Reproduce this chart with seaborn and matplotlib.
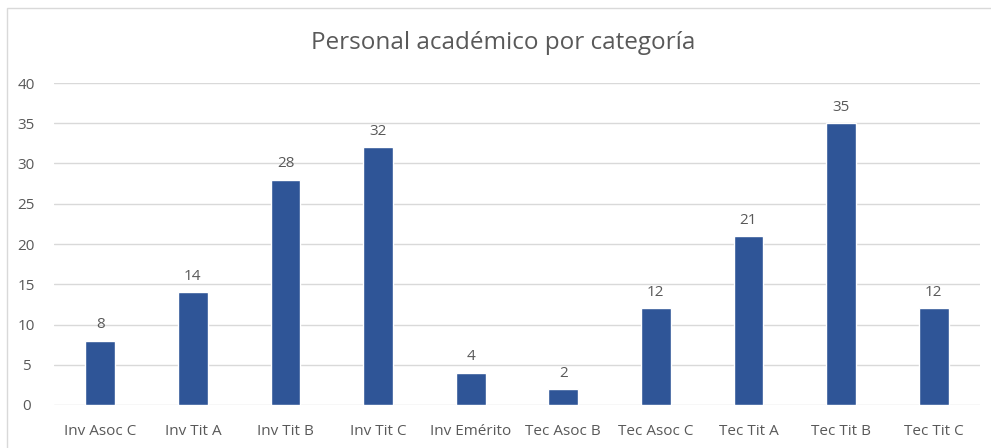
import matplotlib
matplotlib.use("Agg")
import matplotlib.pyplot as plt
import seaborn as sns
import pandas as pd
from matplotlib.patches import Rectangle

categorias = ["Inv Asoc C", "Inv Tit A", "Inv Tit B", "Inv Tit C", "Inv Emérito",
              "Tec Asoc B", "Tec Asoc C", "Tec Tit A", "Tec Tit B", "Tec Tit C"]
personal = [8, 14, 28, 32, 4, 2, 12, 21, 35, 12]
yticks = [0, 5, 10, 15, 20, 25, 30, 35, 40]

df = pd.DataFrame({"categoria": categorias, "personal": personal})

sns.set_theme(style="white")
plt.rcParams['font.family'] = ['Open Sans', 'DejaVu Sans']
gris = "#595959"

fig = plt.figure(figsize=(9.91, 4.48), dpi=100)
ax = fig.add_axes([54/991, 1-405/448, 926/991, 322/448])

sns.barplot(data=df, x="categoria", y="personal", color="#2F5597", width=0.32,
            saturation=1, ax=ax, zorder=3)

ax.set_ylim(0, 40)
ax.set_yticks(yticks)
ax.yaxis.grid(True, color="#D9D9D9", linewidth=1, zorder=0)
for s in ax.spines.values():
    s.set_visible(False)
ax.set_xlabel("")
ax.set_ylabel("")
ax.tick_params(axis="both", length=0, labelsize=11, colors=gris)
ax.tick_params(axis="x", pad=14)
ax.tick_params(axis="y", pad=20)
for lbl in ax.get_yticklabels():
    lbl.set_horizontalalignment("center")
ax.bar_label(ax.containers[0], padding=6, fontsize=11, color=gris)

fig.text(503/991, 1-43/448, "Personal académico por categoría", ha="center", va="center",
         fontsize=17.5, color=gris)

# borde del área del gráfico
fig.patches.append(Rectangle((7/991, -0.1), 1.2, 1-8/448+0.1, transform=fig.transFigure,
                             fill=False, edgecolor="#D9D9D9", linewidth=1))

fig.savefig("out.png", dpi=100)
